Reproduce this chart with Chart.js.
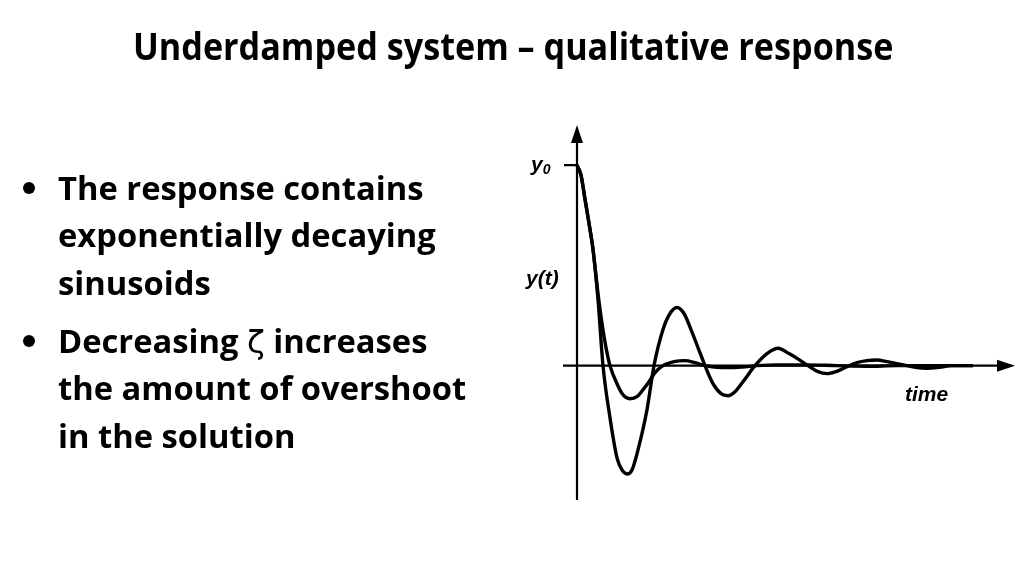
<!DOCTYPE html>
<html><head><meta charset="utf-8">
<script src="https://cdn.jsdelivr.net/npm/chart.js@4.4.1/dist/chart.umd.min.js"></script>
<style>
html,body{margin:0;padding:0;background:#fff;width:1024px;height:576px;overflow:hidden;}
#wrap{position:absolute;left:0;top:0;width:1024px;height:576px;}
.t{position:absolute;font-family:"Open Sans",Lato,sans-serif;font-weight:700;color:#000;white-space:nowrap;font-variant-ligatures:none;transform-origin:0 0;}
#title{top:27px;font-size:37px;line-height:37px;}
.b{font-size:32px;line-height:32px;left:58px;}
.dot{position:absolute;width:12px;height:12px;border-radius:50%;background:#000;left:23px;}
.lab{position:absolute;font-family:"Liberation Sans",Arial,sans-serif;font-weight:700;font-style:italic;font-size:21px;line-height:21px;color:#000;white-space:nowrap;}
</style></head>
<body>
<div id="wrap"><canvas id="c" width="1024" height="576"></canvas></div>
<div class="t" id="title">Underdamped system – qualitative response</div>
<div class="dot" style="top:182px"></div>
<div class="t b" id="b1" style="top:172px">The response contains</div>
<div class="t b" style="top:219px">exponentially decaying</div>
<div class="t b" style="top:267px">sinusoids</div>
<div class="dot" style="top:335px"></div>
<div class="t b" style="top:325px">Decreasing <span style="font-family:'DejaVu Sans',sans-serif;font-weight:400">ζ</span> increases</div>
<div class="t b" style="top:372px">the amount of overshoot</div>
<div class="t b" style="top:420px">in the solution</div>
<div class="lab" style="left:531px;top:153px">y<span style="font-size:14px;position:relative;top:3px">0</span></div>
<div class="lab" style="left:526px;top:267px">y(t)</div>
<div class="lab" style="left:905px;top:383px">time</div>
<script>
// Lightly damped response (larger overshoot)
const timeLight = [0, 0.04, 0.08, 0.12, 0.16, 0.21, 0.26, 0.33, 0.40, 0.45, 0.50, 0.55, 0.61, 0.70, 0.77, 0.86, 0.93, 1.00, 1.07, 1.14, 1.21, 1.28, 1.36, 1.44, 1.51, 1.58, 1.66, 1.78, 1.90, 2.01, 2.12, 2.22, 2.31, 2.41, 2.50, 2.59, 2.70, 2.80, 2.90, 3.00, 3.10, 3.20, 3.30, 3.40, 3.50, 3.60, 3.75, 3.96];
const yLight    = [1.00, 0.95, 0.83, 0.71, 0.58, 0.33, 0.00, -0.26, -0.46, -0.52, -0.54, -0.52, -0.42, -0.22, 0.00, 0.18, 0.26, 0.29, 0.26, 0.18, 0.09, 0.00, -0.09, -0.14, -0.15, -0.13, -0.08, 0.00, 0.06, 0.087, 0.06, 0.03, 0.00, -0.03, -0.04, -0.03, -0.005, 0.015, 0.025, 0.028, 0.02, 0.01, 0.00, -0.01, -0.013, -0.01, 0.00, 0.00];
// Heavily damped response (smaller overshoot)
const timeHeavy = [0, 0.04, 0.08, 0.12, 0.16, 0.21, 0.25, 0.29, 0.33, 0.40, 0.46, 0.53, 0.60, 0.66, 0.72, 0.78, 0.86, 0.97, 1.08, 1.18, 1.28, 1.40, 1.50, 1.65, 1.80, 2.00, 2.30, 2.60, 2.90, 3.20, 3.50, 3.96];
const yHeavy    = [1.00, 0.95, 0.83, 0.71, 0.58, 0.36, 0.21, 0.09, 0.00, -0.09, -0.145, -0.165, -0.155, -0.12, -0.08, -0.035, 0.00, 0.02, 0.025, 0.015, 0.00, -0.008, -0.01, -0.007, 0.00, 0.004, 0.004, 0.00, -0.003, 0.00, 0.00, 0.00];
const y0Value = 1;
const xRange = [-0.14, 4.38];
const yRange = [-0.67, 1.20];

// fit slide text widths (Calibri-like metrics)
(function(){
  const title = document.getElementById('title');
  const s = 760 / title.scrollWidth;
  title.style.left = '133px';
  title.style.transform = 'scaleX(' + s + ')';
  const b1 = document.getElementById('b1');
  const sb = 366 / b1.scrollWidth;
  document.querySelectorAll('.b').forEach(el => el.style.transform = 'scaleX(' + sb + ')');
})();

const pts = (xs, ys) => xs.map((x, i) => ({x, y: ys[i]}));

const axesPlugin = {
  id: 'axesArrows',
  beforeDatasetsDraw(chart) {
    const {ctx, scales:{x, y}} = chart;
    const x0 = x.getPixelForValue(0), yz = y.getPixelForValue(0);
    const xl = x.getPixelForValue(xRange[0]), xr = x.getPixelForValue(xRange[1]);
    const yt = y.getPixelForValue(yRange[1]), yb = y.getPixelForValue(yRange[0]);
    const yy0 = y.getPixelForValue(y0Value);
    ctx.save();
    ctx.strokeStyle = '#000'; ctx.fillStyle = '#000'; ctx.lineWidth = 2.2;
    ctx.beginPath();
    ctx.moveTo(xl, yz); ctx.lineTo(xr - 14, yz);
    ctx.moveTo(x0, yb); ctx.lineTo(x0, yt + 14);
    ctx.moveTo(x0 - 13, yy0); ctx.lineTo(x0, yy0);
    ctx.stroke();
    ctx.beginPath();
    ctx.moveTo(xr, yz); ctx.lineTo(xr - 18, yz - 6); ctx.lineTo(xr - 18, yz + 6); ctx.closePath();
    ctx.moveTo(x0, yt); ctx.lineTo(x0 - 6, yt + 18); ctx.lineTo(x0 + 6, yt + 18); ctx.closePath();
    ctx.fill();
    ctx.restore();
  }
};

new Chart(document.getElementById('c'), {
  type: 'line',
  data: {
    datasets: [
      {data: pts(timeLight, yLight), borderColor: '#000', borderWidth: 3.4, pointRadius: 0, cubicInterpolationMode: 'monotone', fill: false},
      {data: pts(timeHeavy, yHeavy), borderColor: '#000', borderWidth: 3.4, pointRadius: 0, cubicInterpolationMode: 'monotone', fill: false}
    ]
  },
  options: {
    responsive: false, animation: false,
    layout: {padding: {left: 563, right: 9, top: 125, bottom: 76}},
    plugins: {legend: {display: false}, tooltip: {enabled: false}},
    scales: {
      x: {type: 'linear', min: xRange[0], max: xRange[1], display: false},
      y: {type: 'linear', min: yRange[0], max: yRange[1], display: false}
    }
  },
  plugins: [axesPlugin]
});
</script>
</body></html>
